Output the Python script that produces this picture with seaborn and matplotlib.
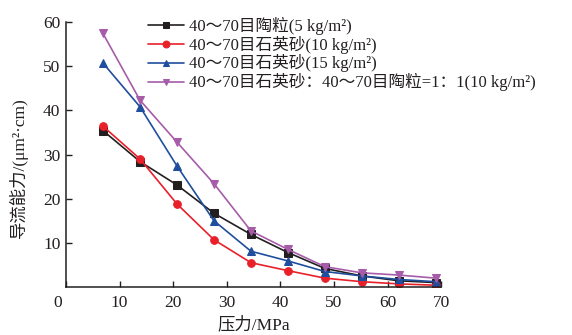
import matplotlib
matplotlib.use("Agg")
import matplotlib.pyplot as plt
import matplotlib.transforms as mtransforms
import seaborn as sns

# 闭合压力 (MPa)
pressure = [6.9, 13.8, 20.7, 27.6, 34.5, 41.4, 48.3, 55.2, 62.1, 69.0]

# 导流能力 (μm²·cm)
ceramic_5 = [35.4, 28.4, 23.1, 16.7, 11.9, 7.8, 4.2, 2.5, 1.4, 1.0]
quartz_10 = [36.4, 29.0, 18.8, 10.7, 5.5, 3.7, 2.0, 1.2, 0.7, 0.4]
quartz_15 = [50.7, 40.8, 27.4, 15.0, 8.1, 5.9, 3.5, 2.5, 1.7, 1.2]
mixed_10 = [57.4, 42.3, 32.8, 23.4, 12.7, 8.5, 4.6, 3.2, 2.7, 2.0]

labels = [
    "40～70目陶粒(5 kg/m²)",
    "40～70目石英砂(10 kg/m²)",
    "40～70目石英砂(15 kg/m²)",
    "40～70目石英砂：40～70目陶粒=1：1(10 kg/m²)",
]
x_ticks = [0, 10, 20, 30, 40, 50, 60, 70]
y_ticks = [10, 20, 30, 40, 50, 60]

sns.set_style("ticks")
plt.rcParams['font.family'] = ['Liberation Serif', 'Noto Sans CJK SC']
plt.rcParams['axes.unicode_minus'] = False

fig = plt.figure(figsize=(5.72, 3.35), dpi=100)
ax = fig.add_axes([0.1154, 0.1433, 0.656, 0.791])

series = [ceramic_5, quartz_10, quartz_15, mixed_10]
colors = ["#231f20", "#e8202a", "#1f4e9e", "#a65ca8"]
markers = ["s", "o", "^", "v"]
for vals, c, m, lab in zip(series, colors, markers, labels):
    sns.lineplot(x=pressure, y=vals, ax=ax, color=c, marker=m, markersize=5.5,
                 markeredgecolor=c, linewidth=1.2, label=lab)

ax.set_xlim(0, 70)
ax.set_ylim(0, 60)
ax.set_xticks(x_ticks)
ax.set_yticks(y_ticks)
ax.tick_params(direction="in", length=4, width=1, labelsize=12.5, colors="#231f20")
ax.tick_params(axis="x", pad=6)
ax.tick_params(axis="y", pad=4)
for sp in ["top", "right"]:
    ax.spines[sp].set_visible(False)
for sp in ["left", "bottom"]:
    ax.spines[sp].set_linewidth(1.1)
    ax.spines[sp].set_color("#231f20")

# 原点标签左移
lbl0 = ax.get_xticklabels()[0]
lbl0.set_transform(lbl0.get_transform() + mtransforms.ScaledTranslation(-8 / 100, 0, fig.dpi_scale_trans))

ax.set_xlabel("压力/MPa", fontsize=12.5, color="#231f20")
ax.set_ylabel("导流能力/(μm²·cm)", fontsize=12.5, color="#231f20")
ax.xaxis.set_label_coords(0.5, -0.112)
ax.yaxis.set_label_coords(-0.102, 0.45)

leg = ax.legend(loc="upper left", bbox_to_anchor=(0.2, 1.045), frameon=False,
                fontsize=12, handlelength=2.2, handletextpad=0.3,
                labelspacing=0.05, borderaxespad=0, markerscale=0.9)
for t in leg.get_texts():
    t.set_color("#231f20")

fig.savefig("out.png", dpi=100)
